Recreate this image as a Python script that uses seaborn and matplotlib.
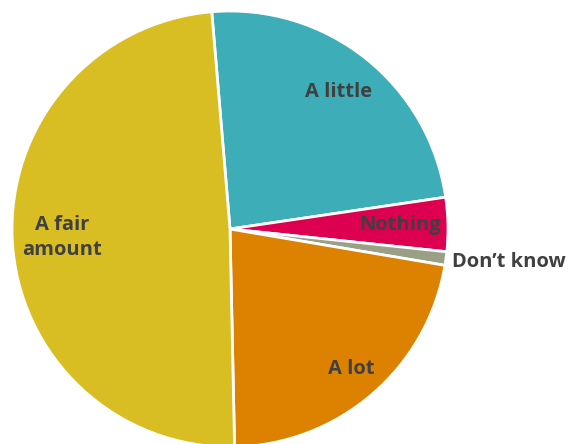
import numpy as np
import matplotlib
matplotlib.use("Agg")
import matplotlib.pyplot as plt
import seaborn as sns

sns.set_theme(style="white")
plt.rcParams['font.family'] = ['Open Sans', 'DejaVu Sans']

categories = ["A little", "Nothing", "Don\u2019t know", "A lot", "A fair\namount"]
values = [24, 4, 1, 22, 49]
colors = ["#3DADB8", "#DD0050", "#9AA085", "#DD8200", "#D8BE22"]
label_dist = [0.80, 0.78, 1.03, 0.85, 0.77]
label_ha = ["center", "center", "left", "center", "center"]
label_va = ["center", "center", "center_baseline", "center", "center"]

fig = plt.figure(figsize=(5.73, 4.44), dpi=100)
ax = fig.add_axes([12/573, -3/444, 436/573, 436/444])
wedges, _ = ax.pie(values, colors=colors, startangle=94.8, counterclock=False,
                   wedgeprops=dict(edgecolor="white", linewidth=2))
for w, lab, d, ha, va in zip(wedges, categories, label_dist, label_ha, label_va):
    w.set_clip_on(False)
    th = np.deg2rad((w.theta1 + w.theta2) / 2)
    ax.text(d * np.cos(th), d * np.sin(th), lab, ha=ha, va=va,
            fontsize=14.5, fontweight="bold", color="#404040",
            linespacing=1.35, clip_on=False)
ax.set_xlim(-1, 1)
ax.set_ylim(-1, 1)
ax.set_aspect("equal")
ax.axis("off")
fig.savefig("out.png", dpi=100)
